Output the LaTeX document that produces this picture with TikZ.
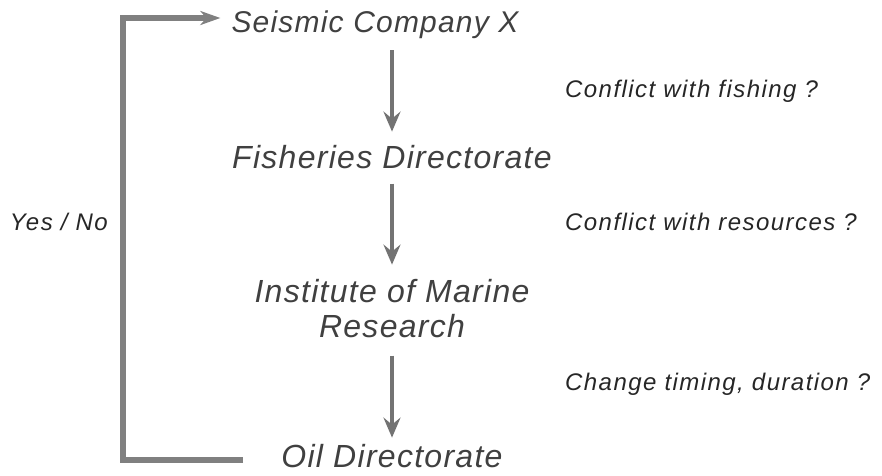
\documentclass[tikz,border=0pt]{standalone}
\usepackage{fontspec}
\setmainfont{Liberation Sans}
\newfontfamily\bigfont[LetterSpace=4,Ligatures=NoCommon]{Liberation Sans}
\newfontfamily\smallfont[LetterSpace=6,Ligatures=NoCommon]{Liberation Sans}
\usepackage{tikz}
\usetikzlibrary{arrows.meta}

\begin{document}
\begin{tikzpicture}[x=1pt, y=-1pt,
    agency/.style={inner sep=0, anchor=base, align=center, text=black!75,
      font=\bigfont\fontsize{32}{35}\selectfont\itshape},
    question/.style={inner sep=0, anchor=base west, text=black!85,
      font=\smallfont\fontsize{24}{28}\selectfont\itshape},
    flow/.style={draw=black!55, line width=4.5pt,
      -{Stealth[length=20pt, width=17pt, inset=7pt, fill=black!55]}},
    feedback/.style={draw=black!50, line width=5.5pt,
      -{Stealth[length=20pt, width=14pt, inset=6pt, fill=black!50]}}]
      \useasboundingbox (0, 0) rectangle (882, 475);
      % agencies
      \node[agency, font=\bigfont\fontsize{30}{33}\selectfont\itshape] (seismic) at (375, 32) {Seismic Company X};
      \node[agency] (fisheries) at (392, 168) {Fisheries Directorate};
      \node[agency] (imr) at (392, 337) {Institute of Marine\\Research};
      \node[agency] (oil) at (392, 467) {Oil Directorate};
      % questions
      \node[question] (fishing) at (565, 97) {Conflict with fishing ?};
      \node[question] (resources) at (565, 230) {Conflict with resources ?};
      \node[question] (timing) at (565, 390) {Change timing, duration ?};
      \node[question, anchor=base east] (yesno) at (108, 230) {Yes / No};
      % chain
      \draw[flow, shorten <=12pt, shorten >=13pt] (seismic.south -| fisheries.north) -- (fisheries.north);
      \draw[flow, shorten <=15pt, shorten >=14pt] (fisheries.south) -- (imr.north -| fisheries.south);
      \draw[flow, shorten <=18pt, shorten >=6pt] (imr.south -| oil.north) -- (oil.north);
      % back loop
      \coordinate (low) at (123, 460);
      \coordinate (high) at (123, 18);
      \draw[feedback, shorten <=38pt, shorten >=11pt] (oil.west |- low) -- (low) -- (high) -- (high -| seismic.west);
    \end{tikzpicture}
\end{document}
